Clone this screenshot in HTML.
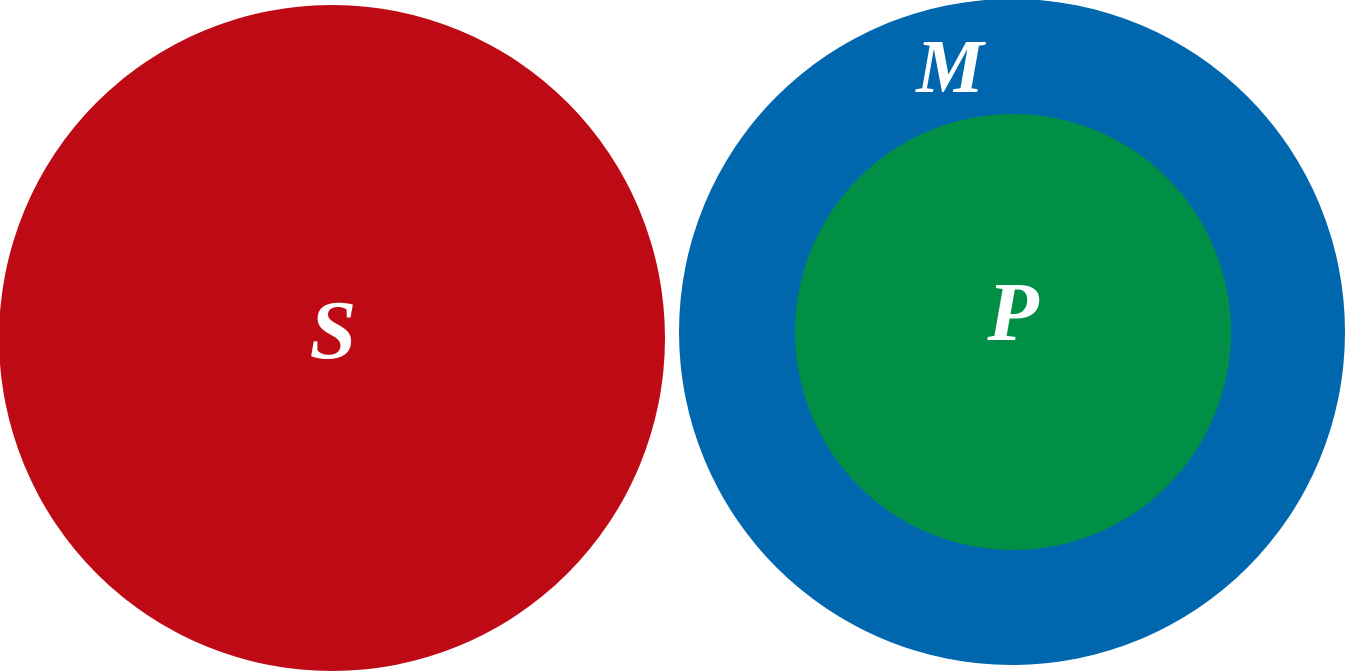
<!DOCTYPE html>
<html>
<head>
<meta charset="utf-8">
<style>
  html, body { margin: 0; padding: 0; background: #ffffff; }
  svg { display: block; }
  text { font-family: "Liberation Serif", serif; font-style: italic; font-weight: bold; fill: #ffffff; }
</style>
</head>
<body>
<svg width="1345" height="671" viewBox="0 0 1345 671">
  <circle cx="332" cy="338" r="333" fill="#BE0A14"/>
  <circle cx="1012" cy="332" r="333" fill="#0066AE"/>
  <circle cx="1013" cy="332" r="218" fill="#008F45"/>
  <text x="333" y="358" font-size="84" text-anchor="middle">S</text>
  <text x="950" y="92" font-size="76" text-anchor="middle">M</text>
  <text x="1013" y="340" font-size="84" text-anchor="middle">P</text>
</svg>
</body>
</html>
